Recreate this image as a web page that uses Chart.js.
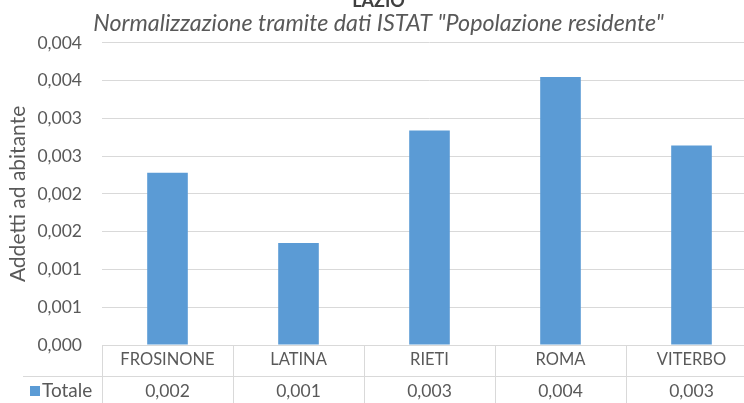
<!DOCTYPE html>
<html>
<head>
<meta charset="utf-8">
<script src="https://cdn.jsdelivr.net/npm/chart.js@4.4.1/dist/chart.umd.min.js"></script>
<style>
  html, body { margin: 0; padding: 0; background: #fff; }
  #wrap { width: 744px; height: 403px; overflow: hidden; position: relative; }
  #chart { position: absolute; left: 0; top: -12px; }
</style>
</head>
<body>
<div id="wrap"><canvas id="chart" width="776" height="415"></canvas></div>
<script>
const categories = ['FROSINONE', 'LATINA', 'RIETI', 'ROMA', 'VITERBO'];
const totale = [0.00228, 0.00135, 0.00284, 0.00355, 0.00264];
const seriesName = 'Totale';
const yMax = 0.004;
const yStep = 0.0005;

const grey = '#595959';
const lineCol = '#d9d9d9';
const barCol = '#5b9bd5';
const fontFam = 'Lato, "Open Sans", sans-serif';

// Excel-style: three decimals, comma separator
function fmt(v) {
  const t = Math.round(v * 10000);
  const r = Math.floor((t + 5) / 10);
  return '0,' + String(r).padStart(3, '0');
}

// draws the data table under the plot (category row + series row)
const dataTable = {
  id: 'dataTable',
  afterDraw(chart) {
    const ctx = chart.ctx;
    const ca = chart.chartArea;
    const xs = chart.scales.x;
    const row1 = ca.bottom;
    const row2 = ca.bottom + 31;
    const bottom = chart.height;
    const step = xs.getPixelForValue(1) - xs.getPixelForValue(0);

    ctx.save();
    ctx.strokeStyle = lineCol;
    ctx.lineWidth = 1;
    ctx.beginPath();
    ctx.moveTo(ca.left, row1 + 0.5);
    ctx.lineTo(ca.right, row1 + 0.5);
    ctx.moveTo(23, row2 + 0.5);
    ctx.lineTo(ca.right, row2 + 0.5);
    for (let i = 0; i <= categories.length; i++) {
      const x = Math.round(ca.left + i * step) + 0.5;
      ctx.moveTo(x, row1);
      ctx.lineTo(x, bottom);
    }
    ctx.stroke();

    ctx.fillStyle = grey;
    ctx.font = '16.5px ' + fontFam;
    ctx.textAlign = 'center';
    ctx.textBaseline = 'middle';
    categories.forEach((c, i) => {
      const x = xs.getPixelForValue(i);
      ctx.fillText(c, x, row1 + 15);
    });
    ctx.font = '17.5px ' + fontFam;
    categories.forEach((c, i) => {
      const x = xs.getPixelForValue(i);
      ctx.fillText(fmt(totale[i]), x, row2 + 15);
    });

    ctx.fillStyle = barCol;
    ctx.fillRect(30, row2 + 10, 10, 10);
    ctx.fillStyle = grey;
    ctx.textAlign = 'left';
    ctx.font = '19px ' + fontFam;
    ctx.fillText(seriesName, 42, row2 + 15);
    ctx.restore();
  }
};

new Chart(document.getElementById('chart'), {
  type: 'bar',
  data: {
    labels: categories,
    datasets: [{
      label: seriesName,
      data: totale,
      backgroundColor: barCol,
      barPercentage: 0.31,
      categoryPercentage: 1
    }]
  },
  options: {
    responsive: false,
    animation: false,
    devicePixelRatio: 1,
    layout: { padding: { left: 0, right: 19, top: 0, bottom: 58 } },
    plugins: {
      legend: { display: false },
      tooltip: { enabled: false },
      title: {
        display: true,
        text: 'LAZIO',
        color: '#404040',
        font: { family: fontFam, size: 18, weight: 'bold', lineHeight: 1.2 },
        padding: { top: 2, bottom: 0 }
      },
      subtitle: {
        display: true,
        text: 'Normalizzazione tramite dati ISTAT "Popolazione residente"',
        color: grey,
        font: { family: fontFam, size: 23.3, style: 'italic', lineHeight: 1.0 },
        padding: { top: 0, bottom: 8 }
      }
    },
    scales: {
      x: {
        display: false
      },
      y: {
        min: 0,
        max: yMax,
        afterFit(scale) { scale.width = 102; },
        border: { display: false },
        grid: { color: lineCol, drawTicks: false },
        ticks: {
          stepSize: yStep,
          padding: 20,
          color: grey,
          font: { family: fontFam, size: 17.5 },
          callback: v => fmt(v)
        },
        title: {
          display: true,
          text: 'Addetti ad abitante',
          color: grey,
          font: { family: fontFam, size: 21 },
          padding: { top: 6, bottom: 0 }
        }
      }
    }
  },
  plugins: [dataTable]
});
</script>
</body>
</html>
